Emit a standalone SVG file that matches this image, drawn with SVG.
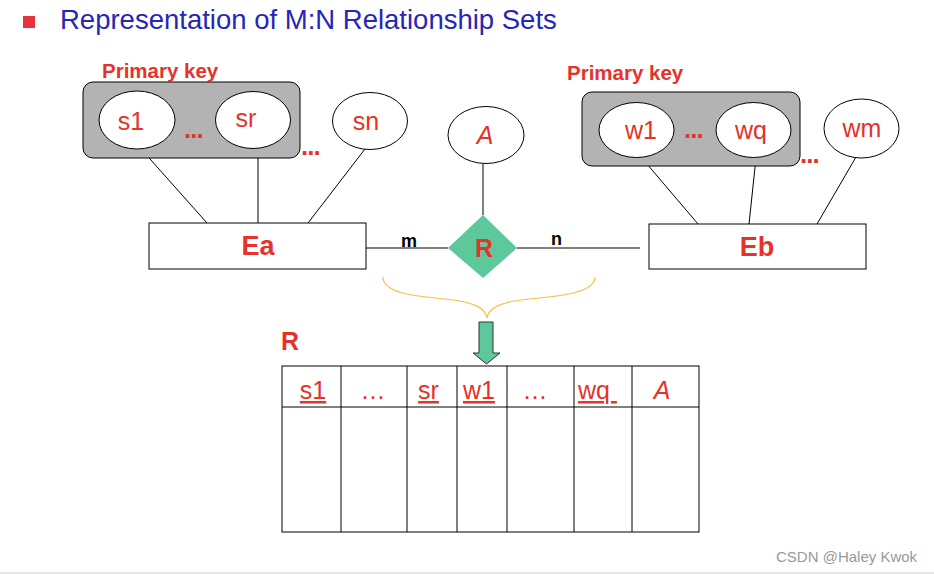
<svg xmlns="http://www.w3.org/2000/svg" width="934" height="574" viewBox="0 0 934 574">
<defs>
<style>
.t{font-family:"Liberation Sans",Arial,sans-serif;fill:#e5322a}
.b{font-weight:bold}
.e{fill:#fff;stroke:#000;stroke-width:1}
.eg{fill:#b3b3b3;stroke:#000;stroke-width:1}
.ln{stroke:#000;stroke-width:1;fill:none}
.box{fill:#fff;stroke:#000;stroke-width:1}
.u{text-decoration:underline}
.d{font-size:26px;font-weight:bold;letter-spacing:-1px}
</style>
</defs>
<rect width="934" height="574" fill="#fff"/>
<g id="title">
<rect x="23" y="16" width="12" height="12" fill="#e8323c"/>
<text x="60" y="29" font-family="Liberation Sans,Arial,sans-serif" font-size="27.5" fill="#2626b8">Representation of M:N Relationship Sets</text>
</g>
<g id="connectors">
<line class="ln" x1="142" y1="150" x2="207" y2="223"/>
<line class="ln" x1="258" y1="149" x2="258" y2="223"/>
<line class="ln" x1="365" y1="149" x2="308" y2="223"/>
<line class="ln" x1="366" y1="248" x2="448" y2="248"/>
<line class="ln" x1="517" y1="248" x2="640" y2="248"/>
<line class="ln" x1="483" y1="164" x2="483" y2="215"/>
<line class="ln" x1="641" y1="157" x2="698" y2="224"/>
<line class="ln" x1="756" y1="158" x2="749" y2="224"/>
<line class="ln" x1="856" y1="157" x2="817" y2="224"/>
<text class="b" x="401" y="247" font-family="Liberation Sans,Arial,sans-serif" font-size="18" fill="#000">m</text>
<text class="b" x="551" y="245" font-family="Liberation Sans,Arial,sans-serif" font-size="18" fill="#000">n</text>
</g>
<g id="pk-left">
<rect class="eg" x="83" y="82" width="217" height="76" rx="10"/>
<text class="t b" x="102" y="78" font-size="20.5">Primary key</text>
<text class="t d" x="184" y="138">...</text>
<text class="t d" x="301" y="155">...</text>
</g>
<g id="s1"><ellipse class="e" cx="137" cy="120" rx="38" ry="29"/><text class="t" x="131" y="130" font-size="25" text-anchor="middle">s1</text></g>
<g id="sr"><ellipse class="e" cx="253" cy="120" rx="37.5" ry="28.5"/><text class="t" x="246" y="127" font-size="25" text-anchor="middle">sr</text></g>
<g id="sn"><ellipse class="e" cx="370" cy="121" rx="37.5" ry="28.5"/><text class="t" x="366" y="130" font-size="25" text-anchor="middle">sn</text></g>
<g id="Ea"><rect class="box" x="149" y="223" width="217" height="46"/><text class="t b" x="258" y="255" font-size="27" text-anchor="middle">Ea</text></g>
<g id="A"><ellipse class="e" cx="486" cy="135" rx="38" ry="28.5"/><text class="t" x="485" y="144" font-size="25" font-style="italic" text-anchor="middle">A</text></g>
<g id="R"><polygon points="483,215 517,248 483,278 448,248" fill="#5cc89c"/><text class="t b" x="484" y="257" font-size="25" text-anchor="middle">R</text></g>
<g id="pk-right">
<rect class="eg" x="582" y="92" width="218" height="74" rx="10"/>
<text class="t b" x="567" y="80" font-size="20.5">Primary key</text>
<text class="t d" x="684" y="138">...</text>
<text class="t d" x="800" y="163">...</text>
</g>
<g id="w1"><ellipse class="e" cx="636.5" cy="130" rx="37.5" ry="27.5"/><text class="t" x="641" y="139" font-size="25" text-anchor="middle">w1</text></g>
<g id="wq"><ellipse class="e" cx="753.5" cy="130" rx="37.5" ry="27.5"/><text class="t" x="751" y="139" font-size="25" text-anchor="middle">wq</text></g>
<g id="wm"><ellipse class="e" cx="861.5" cy="128.5" rx="37.5" ry="29.5"/><text class="t" x="862" y="137" font-size="25" text-anchor="middle">wm</text></g>
<g id="Eb"><rect class="box" x="649" y="224" width="217" height="45"/><text class="t b" x="757" y="256" font-size="27" text-anchor="middle">Eb</text></g>
<g id="brace">
<path d="M383,277 C383,292 410,296 445,299 C475,302 485,308 487,318 C489,308 499,302 529,299 C564,296 595,292 595,277" fill="none" stroke="#f2c14a" stroke-width="1.2"/>
</g>
<g id="arrow">
<polygon points="479,322 493,322 493,353 500,353 486.5,364 473,353 479,353" fill="#5cc89c" stroke="#333" stroke-width="1"/>
</g>
<g id="table">
<text class="t b" x="281" y="350" font-size="25">R</text>
<rect class="box" x="282" y="366" width="417" height="166" stroke="#222"/>
<line class="ln" x1="282" y1="407" x2="699" y2="407"/>
<line class="ln" x1="341" y1="366" x2="341" y2="532"/>
<line class="ln" x1="407" y1="366" x2="407" y2="532"/>
<line class="ln" x1="457" y1="366" x2="457" y2="532"/>
<line class="ln" x1="507" y1="366" x2="507" y2="532"/>
<line class="ln" x1="574" y1="366" x2="574" y2="532"/>
<line class="ln" x1="632" y1="366" x2="632" y2="532"/>
<text class="t u" x="313" y="399" font-size="25" text-anchor="middle">s1</text>
<text class="t" x="373" y="399" font-size="25" text-anchor="middle">…</text>
<text class="t u" x="428.5" y="399" font-size="25" text-anchor="middle">sr</text>
<text class="t u" x="479" y="399" font-size="25" text-anchor="middle">w1</text>
<text class="t" x="535" y="399" font-size="25" text-anchor="middle">…</text>
<text class="t u" x="578" y="399" font-size="25" xml:space="preserve">wq </text>
<text class="t" x="662" y="399" font-size="25" font-style="italic" text-anchor="middle">A</text>
</g>
<g id="watermark">
<text x="776" y="562" font-family="Liberation Sans,Arial,sans-serif" font-size="15" fill="#9a9a9a">CSDN @Haley Kwok</text>
<rect x="0" y="572" width="934" height="2" fill="#e6e6e6"/>
</g>
</svg>
